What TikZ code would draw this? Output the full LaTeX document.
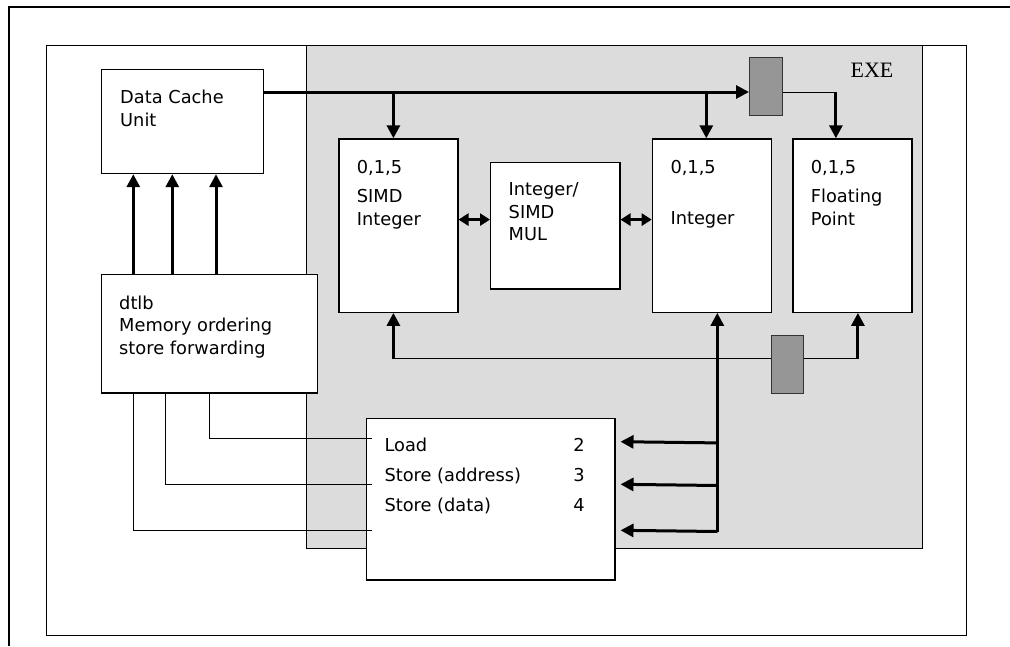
\documentclass[tikz,border=0pt]{standalone}
\usepackage{fontspec}
\setmainfont{DejaVu Sans}
\newfontfamily\exefont{Liberation Serif}
\usetikzlibrary{arrows.meta,calc}
\definecolor{exegray}{RGB}{220,220,220}
\definecolor{latchgray}{RGB}{150,150,150}
\tikzset{
  unit/.style={draw,fill=white,line width=1.2pt,anchor=north west,inner sep=0pt},
  latch/.style={draw=black!80,fill=latchgray,line width=1pt,anchor=north west,inner sep=0pt,minimum width=32.5pt,minimum height=58pt},
  wire/.style={line width=1pt},
  bus/.style={line width=3pt},
  tip/.style={-{Triangle[length=13pt,width=13pt]}},
  dtip/.style={{Triangle[length=10pt,width=12pt]}-{Triangle[length=10pt,width=12pt]}},
  txt/.style={anchor=base west,inner sep=0pt,align=left,font={\fontsize{17.8}{22.7}\selectfont}},
}

\begin{document}
\begin{tikzpicture}[x=1pt,y=-1pt]
  \useasboundingbox (0,0) rectangle (1010,646);
  % frame
  \draw[line width=2pt] (9,646) |- (1010,7);
  \draw[wire] (46,45) rectangle (966,635);
  \node[unit,fill=exegray,line width=1pt,minimum width=616pt,minimum height=502.7pt] (exe) at (306,45) {};
  \node[font={\exefont\fontsize{22}{22}\selectfont}] (exelbl) at (872,70) {EXE};

  % units
  \node[unit,minimum width=161.7pt,minimum height=104pt] (dcu) at (101,69) {};
  \node[unit,minimum width=215.7pt,minimum height=118.3pt] (dtlb) at (101,274) {};
  \node[unit,minimum width=119pt,minimum height=173.4pt] (simd) at (338.3,138.3) {};
  \node[unit,minimum width=129.3pt,minimum height=126.6pt] (mul) at (490,161.7) {};
  \node[unit,minimum width=119pt,minimum height=173.4pt] (intu) at (651.7,138.3) {};
  \node[unit,minimum width=119pt,minimum height=173.4pt] (fpu) at (792.3,138.3) {};
  \node[unit,minimum width=248.6pt,minimum height=161.6pt] (ldst) at (365.7,417.7) {};
  \node[latch] (regT) at (749,57.3) {};

  % texts (placed at the baseline of the last line)
  \node[txt] (dcutxt) at (120,126.7) {Data Cache\\[0.7pt]Unit};
  \node[txt] (dtlbtxt) at (119,354.5) {dtlb\\Memory ordering\\store forwarding};
  \node[txt] (simdtxt) at (356.7,225.3) {0,1,5\\[6.7pt]SIMD\\Integer};
  \node[txt] (multxt) at (508.5,240.7) {Integer/\\SIMD\\MUL};
  \node[txt] (inttxt) at (670.3,224.7) {0,1,5\\[28.7pt]Integer};
  \node[txt] (fptxt) at (810.7,225.3) {0,1,5\\[6.7pt]Floating\\Point};
  \node[txt] (ldsttxt) at (384.3,511.7) {Load\\[7.6pt]Store (address)\\[7.6pt]Store (data)};
  \node[txt,align=center,anchor=base] (portstxt) at (579,511.7) {2\\[7.6pt]3\\[7.6pt]4};

  % dtlb to data cache
  \draw[bus,tip] ($(dtlb.north west)+(32.3,0)$) -- ($(dcu.south west)+(32.3,0)$);
  \draw[bus,tip] ($(dtlb.north west)+(71.3,0)$) -- ($(dcu.south west)+(71.3,0)$);
  \draw[bus,tip] ($(dtlb.north west)+(115,0)$) -- ($(dcu.south west)+(115,0)$);

  % dtlb to load/store ports
  \draw[wire] ($(dtlb.south west)+(108,0)$) |- ($(ldst.north west)+(6,20.3)$);
  \draw[wire] ($(dtlb.south west)+(64.7,0)$) |- ($(ldst.north west)+(6,66.6)$);
  \draw[wire] ($(dtlb.south west)+(32.3,0)$) |- ($(ldst.north west)+(6,112.6)$);

  % top bus
  \coordinate (topbus) at (0,92);
  \draw[bus,tip] (dcu.east |- topbus) -- (regT.west |- topbus);
  \draw[bus,tip] ($(simd.north)+(-5,-46.3)$) -- ($(simd.north)+(-5,0)$);
  \draw[bus,tip] ($(intu.north)+(-5.5,-46.3)$) -- ($(intu.north)+(-5.5,0)$);
  \draw[wire] (regT.east |- topbus) -- ($(fpu.north)+(-16.5,-46.3)$);
  \draw[bus,tip] ($(fpu.north)+(-16.5,-46.3)$) -- ($(fpu.north)+(-16.5,0)$);

  % multiplier
  \draw[bus,dtip] ($(simd.east)+(0,-6)$) -- ($(mul.west)+(0,-6)$);
  \draw[bus,dtip] ($(mul.east)+(0,-6)$) -- ($(intu.west)+(0,-6)$);

  % bottom bus
  \draw[wire] ($(simd.south)+(-5,46)$) -- ($(fpu.south)+(5.5,46)$);
  \draw[bus,tip] ($(simd.south)+(-5,46)$) -- ($(simd.south)+(-5,0)$);
  \draw[bus,tip] ($(fpu.south)+(5.5,46)$) -- ($(fpu.south)+(5.5,0)$);
  \node[latch] (regB) at (770.7,334.7) {};

  % integer results to ports
  \draw[bus,tip] ($(intu.south)+(5.5,218.6)$) -- ($(intu.south)+(5.5,0)$);
  \draw[bus,tip] ($(intu.south)+(5.5,130)$) -- ($(ldst.north east)+(5,24)$);
  \draw[bus,tip] ($(intu.south)+(5.5,172.6)$) -- ($(ldst.north east)+(5,66.6)$);
  \draw[bus,tip] ($(intu.south)+(5.5,218.6)$) -- ($(ldst.north east)+(5,112.6)$);
\end{tikzpicture}
\end{document}
